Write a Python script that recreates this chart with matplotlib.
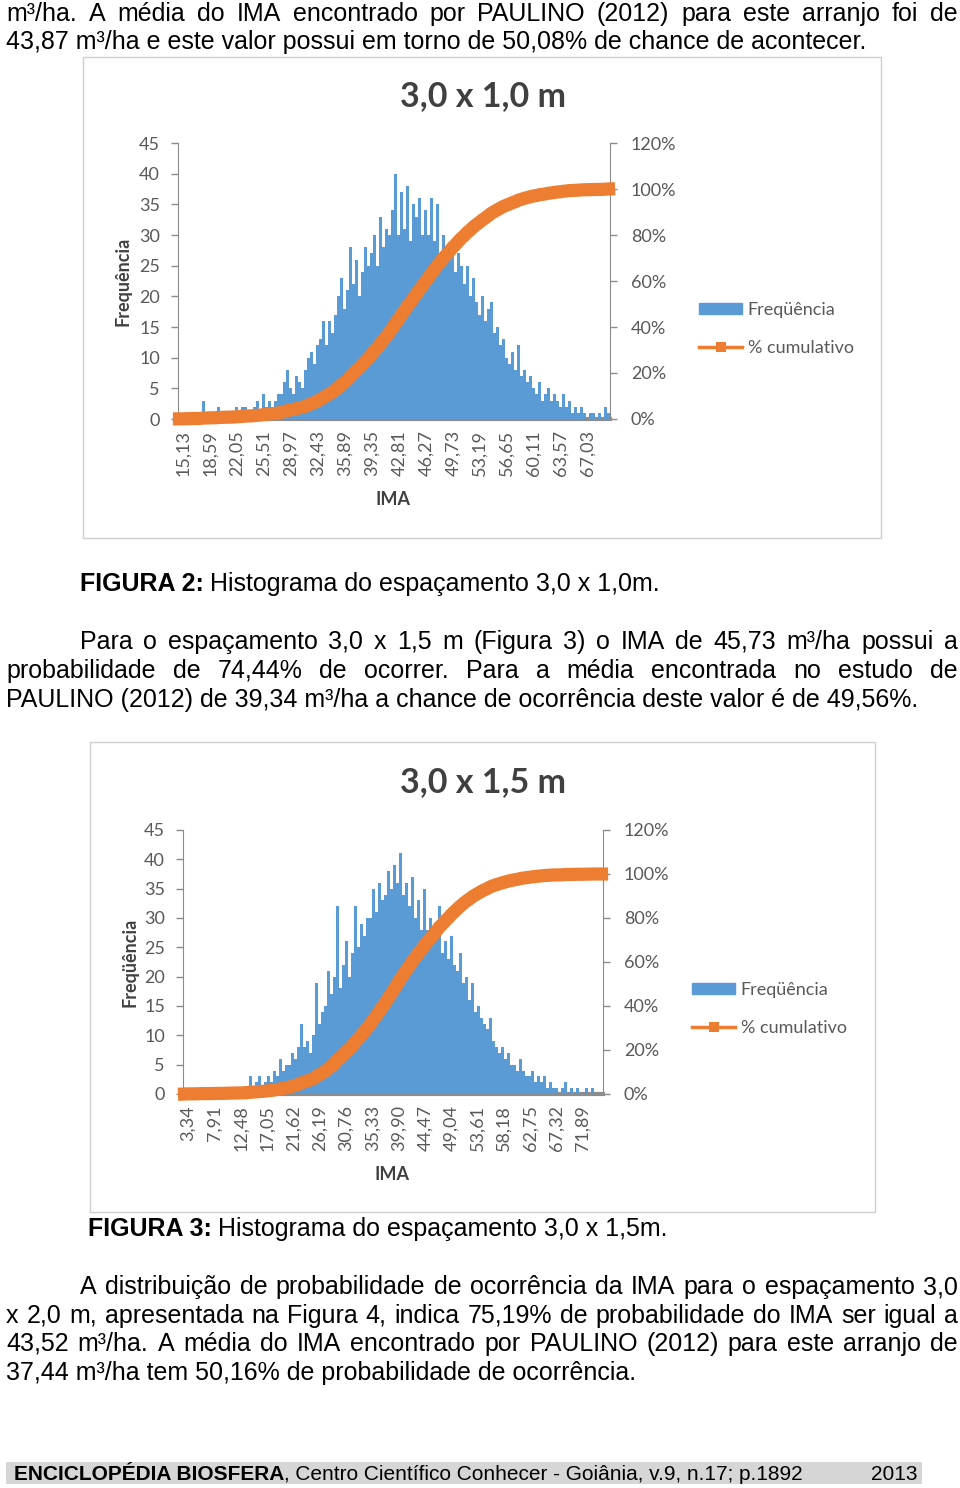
import numpy as np
import matplotlib
matplotlib.use("Agg")
import matplotlib.pyplot as plt
from matplotlib.lines import Line2D
from matplotlib.patches import Rectangle

# ---- chart data ----
# Figure 2: 3,0 x 1,0 m  (IMA bins from 14.49 to 69.85)
freq_a = [1, 0, 1, 1, 0, 1, 0, 1, 3, 0, 1, 1, 0, 2, 1, 1, 0, 1, 1, 2, 1, 2, 2, 1, 1,
          2, 3, 1, 4, 2, 3, 2, 3, 4,
          4, 6, 8, 5, 4, 7, 6, 5,
          8, 10, 11, 9, 12,
          13, 16, 12, 16, 14,
          17, 20, 23, 18, 21, 28,
          22, 26, 20, 24, 28, 25,
          27, 30, 25, 33, 28, 31, 30,
          34, 40, 30, 37,
          31, 38, 29, 35, 33, 36, 30,
          34, 30, 36, 29, 35, 27, 30, 28,
          26, 29, 24, 27, 25,
          22, 25, 20, 23, 19,
          17, 20, 16, 18,
          19, 14, 15, 12, 13,
          10, 9, 11, 8, 12,
          7, 8, 6, 7,
          5, 4, 6, 3, 4, 5, 3, 4,
          3, 2, 4, 2, 3, 1, 2,
          1, 2, 1, 0, 1, 1, 0, 1, 0, 2, 1]
ima_range_a = (14.49, 69.85)
labels_a = ["15,13", "18,59", "22,05", "25,51", "28,97", "32,43", "35,89", "39,35",
            "42,81", "46,27", "49,73", "53,19", "56,65", "60,11", "63,57", "67,03"]

# Figure 3: 3,0 x 1,5 m  (IMA bins from 2.47 to 75.37)
freq_b = [0, 1, 0, 0, 1, 0, 1, 0, 0, 1, 0, 1, 0, 0, 1, 1, 0, 1, 0, 1, 1,
          1, 3, 1, 2, 3, 1, 2, 3,
          2, 4, 3, 6, 4, 5,
          5, 7, 6, 8,
          12, 8, 9, 7, 10,
          19, 12, 14, 15,
          21, 17, 20, 32, 18,
          22, 26, 20, 24, 32,
          25, 29, 27, 30,
          30, 35, 31, 36, 33, 34,
          38, 35, 39, 36,
          41, 34, 36, 32, 37,
          30, 33, 28, 35,
          28, 30, 26, 29, 32,
          24, 26, 23, 27, 22,
          21, 24, 19, 20,
          16, 19, 14, 15, 13,
          12, 11, 13, 9,
          8, 7, 8, 6, 7, 5,
          5, 4, 6, 4, 3,
          3, 4, 2, 3, 2, 3,
          1, 2, 1, 1, 0, 1, 2,
          0, 1, 0, 1, 0, 0, 1, 0, 1, 0, 0, 0]
ima_range_b = (2.47, 75.37)
labels_b = ["3,34", "7,91", "12,48", "17,05", "21,62", "26,19", "30,76", "35,33",
            "39,90", "44,47", "49,04", "53,61", "58,18", "62,75", "67,32", "71,89"]

freq_ticks = [0, 5, 10, 15, 20, 25, 30, 35, 40, 45]
pct_ticks = [0, 0.2, 0.4, 0.6, 0.8, 1.0, 1.2]

W, H = 960, 1488
BLUE = "#5B9BD5"
ORANGE = "#ED7D31"
GRID = "#8c8c8c"
TXT = "#595959"
CFONT = "Lato"
BODY = ["Liberation Sans", "DejaVu Sans"]
BSIZE = 18

fig = plt.figure(figsize=(W / 100, H / 100), dpi=100)
fig.patch.set_facecolor("white")
renderer = fig.canvas.get_renderer()


def fx(x):
    return x / W


def fy(y):
    return 1 - y / H


def width_of(t):
    return t.get_window_extent(renderer).width


def body_line(text, x0, y, x1=None, size=BSIZE):
    """Draw one line of body text; justify it between x0 and x1 if x1 is given."""
    if x1 is None:
        fig.text(fx(x0), fy(y), text, family=BODY, fontsize=size, va="baseline")
        return
    words = text.split(" ")
    objs = [fig.text(0, fy(y), w, family=BODY, fontsize=size, va="baseline") for w in words]
    widths = [width_of(o) for o in objs]
    gap = (x1 - x0 - sum(widths)) / (len(words) - 1)
    x = x0
    for o, w in zip(objs, widths):
        o.set_x(fx(x))
        x += w + gap


def caption(bold, rest, x0, y):
    b = fig.text(fx(x0), fy(y), bold, family=BODY, fontsize=BSIZE, weight="bold", va="baseline")
    fig.text(fx(x0 + width_of(b) + 6), fy(y), rest, family=BODY, fontsize=BSIZE, va="baseline")


def chart(box, plot, title, title_y, ylabel, ylabel_x, xlabel_y, freq, ima_range, labels, legend_xy):
    bx0, by0, bx1, by1 = box
    fig.add_artist(Rectangle((fx(bx0), fy(by1)), (bx1 - bx0) / W, (by1 - by0) / H,
                             transform=fig.transFigure, fill=False, ec="#cfcfcf", lw=1))
    l, t, r, b = plot
    ax = fig.add_axes([fx(l), fy(b), (r - l) / W, (b - t) / H])
    freq = np.array(freq, dtype=float)
    edges = np.linspace(ima_range[0], ima_range[1], len(freq) + 1)
    centers = (edges[:-1] + edges[1:]) / 2
    binw = edges[1] - edges[0]
    ax.bar(centers, freq, width=binw, color=BLUE, lw=0, zorder=2)
    ax.set_xlim(ima_range)
    ax.set_ylim(0, 45)
    ax.set_yticks(freq_ticks)
    ax.set_xticks([float(s.replace(",", ".")) for s in labels])
    ax.set_xticklabels(labels, rotation=90)
    ax.tick_params(axis="x", length=0, pad=8, labelsize=13, labelcolor=TXT)
    ax.tick_params(axis="y", length=5, width=1, color=GRID, pad=8, labelsize=13, labelcolor=TXT)
    for lab in ax.get_xticklabels() + ax.get_yticklabels():
        lab.set_family(CFONT)
    for s in ["top", "right"]:
        ax.spines[s].set_visible(False)
    ax.spines["left"].set_color(GRID)
    ax.spines["bottom"].set_color(GRID)
    ax.spines["bottom"].set_linewidth(3)
    ax.spines["bottom"].set_zorder(1)

    cum = np.cumsum(freq) / freq.sum()
    ax2 = ax.twinx()
    ax2.plot(centers, cum, color=ORANGE, lw=9.5, solid_capstyle="projecting",
             solid_joinstyle="round", clip_on=False, zorder=5)
    ax2.set_ylim(0, 1.2)
    ax2.set_yticks(pct_ticks)
    ax2.set_yticklabels([f"{int(round(p * 100))}%" for p in pct_ticks])
    ax2.tick_params(axis="y", length=5, width=1, color=GRID, pad=10, labelsize=13, labelcolor=TXT)
    for lab in ax2.get_yticklabels():
        lab.set_family(CFONT)
    for s in ["top", "left", "bottom"]:
        ax2.spines[s].set_visible(False)
    ax2.spines["right"].set_color(GRID)

    fig.text(fx((bx0 + bx1) / 2 + 1), fy(title_y), title, family=CFONT, weight="bold",
             fontsize=24.5, color="#404040", ha="center", va="center")
    fig.text(fx(ylabel_x), fy((t + b) / 2), ylabel, family=CFONT, weight="bold",
             fontsize=13, color="#404040", rotation=90, ha="center", va="center")
    fig.text(fx((l + r) / 2 - 1), fy(xlabel_y), "IMA", family=CFONT, weight="bold",
             fontsize=13, color="#404040", ha="center", va="center")

    handles = [Rectangle((0, 0), 1, 1, color=BLUE),
               Line2D([], [], color=ORANGE, lw=2.5, marker="s", ms=7, mew=0)]
    fig.legend(handles, ["Freqüência", "% cumulativo"], loc="center left",
               bbox_to_anchor=(fx(legend_xy[0]), fy(legend_xy[1])), frameon=False,
               borderaxespad=0, prop={"family": CFONT, "size": 13}, labelcolor=TXT,
               handlelength=2.4, handleheight=0.55, handletextpad=0.3, labelspacing=1.2,
               borderpad=0)
    return ax


# ---- page text ----
R = 958
body_line("m³/ha. A média do IMA encontrado por PAULINO (2012) para este arranjo foi de", 6, 21, R)
body_line("43,87 m³/ha e este valor possui em torno de 50,08% de chance de acontecer.", 6, 49)

chart((83, 57, 881, 538), (178, 143, 610, 419), "3,0 x 1,0 m", 96, "Frequência", 123, 500,
      freq_a, ima_range_a, labels_a, (699, 329))
caption("FIGURA 2:", "Histograma do espaçamento 3,0 x 1,0m.", 80, 591)

body_line("Para o espaçamento 3,0 x 1,5 m (Figura 3) o IMA de 45,73 m³/ha possui a", 80, 649, R)
body_line("probabilidade de 74,44% de ocorrer. Para a média encontrada no estudo de", 6, 678, R)
body_line("PAULINO (2012) de 39,34 m³/ha a chance de ocorrência deste valor é de 49,56%.", 6, 707)

chart((90, 742, 875, 1212), (183, 830, 603, 1094), "3,0 x 1,5 m", 782, "Freqüência", 130, 1175,
      freq_b, ima_range_b, labels_b, (692, 1009))
caption("FIGURA 3:", "Histograma do espaçamento 3,0 x 1,5m.", 88, 1236)

body_line("A distribuição de probabilidade de ocorrência da IMA para o espaçamento 3,0", 80, 1294, R)
body_line("x 2,0 m, apresentada na Figura 4, indica 75,19% de probabilidade do IMA ser igual a", 6, 1323, R)
body_line("43,52 m³/ha. A média do IMA encontrado por PAULINO (2012) para este arranjo de", 6, 1351, R)
body_line("37,44 m³/ha tem 50,16% de probabilidade de ocorrência.", 6, 1380)

# ---- footer band ----
fig.add_artist(Rectangle((fx(6), fy(1484)), 916 / W, 22 / H, transform=fig.transFigure,
                         color="#d6d6d6", lw=0))
NARROW = ["Liberation Sans Narrow", "Liberation Sans"]
fb = fig.text(fx(14), fy(1480), "ENCICLOPÉDIA BIOSFERA", family=NARROW, weight="bold",
              fontsize=15, va="baseline")
fig.text(fx(14 + width_of(fb)), fy(1480), ", Centro Científico Conhecer - Goiânia, v.9, n.17; p.1892",
         family=NARROW, fontsize=15, va="baseline")
fig.text(fx(918), fy(1480), "2013", family=NARROW, fontsize=15, va="baseline", ha="right")

fig.savefig("out.png", dpi=100)
